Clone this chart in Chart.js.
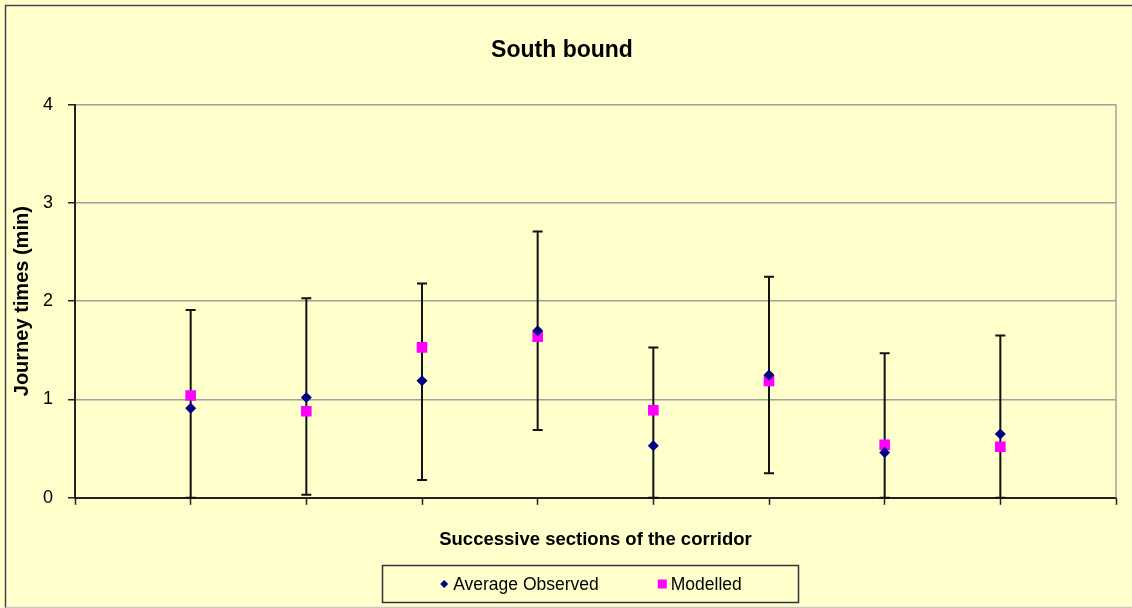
<!DOCTYPE html>
<html>
<head>
<meta charset="utf-8">
<title>South bound</title>
<script src="https://cdn.jsdelivr.net/npm/chart.js@4/dist/chart.umd.min.js"></script>
<style>
  html, body { margin: 0; padding: 0; background: #ffffcc; }
  #wrap { position: relative; width: 1132px; height: 608px; }
</style>
</head>
<body>
<div id="wrap"><canvas id="journeyChart" width="1132" height="608"></canvas></div>
<script>
const sections = [1, 2, 3, 4, 5, 6, 7, 8];
const averageObserved = [0.91, 1.02, 1.19, 1.70, 0.53, 1.25, 0.46, 0.65];
const modelled = [1.04, 0.88, 1.53, 1.64, 0.89, 1.19, 0.54, 0.52];
const errorLow = [0, 0.03, 0.18, 0.69, 0, 0.25, 0, 0];
const errorHigh = [1.91, 2.03, 2.18, 2.71, 1.53, 2.25, 1.47, 1.65];
const yTicks = [0, 1, 2, 3, 4];

const BG = "#ffffcc";
const FONT = "'Liberation Sans', Arial, sans-serif";

function toPoints(values) {
  return sections.map((s, i) => ({ x: s, y: values[i] }));
}

// background + outer frame of the chart
const frame = {
  id: "frame",
  beforeDraw(chart) {
    const ctx = chart.ctx;
    ctx.save();
    ctx.fillStyle = BG;
    ctx.fillRect(0, 0, chart.width, chart.height);
    ctx.strokeStyle = "#444";
    ctx.lineWidth = 1.5;
    ctx.beginPath();
    ctx.moveTo(5.5, chart.height);
    ctx.lineTo(5.5, 5.5);
    ctx.lineTo(chart.width, 5.5);
    ctx.stroke();
    ctx.strokeStyle = "#c8c8c8";
    ctx.beginPath();
    ctx.moveTo(5.5, chart.height - 0.5);
    ctx.lineTo(chart.width, chart.height - 0.5);
    ctx.stroke();
    ctx.restore();
  },
  beforeDatasetsDraw(chart) {
    // right edge of plot area
    const { ctx, chartArea } = chart;
    ctx.save();
    ctx.strokeStyle = "#a0a0a0";
    ctx.lineWidth = 1.5;
    ctx.beginPath();
    ctx.moveTo(chartArea.right, chartArea.top);
    ctx.lineTo(chartArea.right, chartArea.bottom);
    ctx.stroke();
    ctx.restore();
  }
};

// vertical error bars with caps, behind the markers
const errorBars = {
  id: "errorBars",
  beforeDatasetsDraw(chart) {
    const ctx = chart.ctx;
    const xs = chart.scales.x;
    const ys = chart.scales.y;
    ctx.save();
    ctx.strokeStyle = "#111";
    ctx.lineWidth = 2;
    sections.forEach((s, i) => {
      const px = xs.getPixelForValue(s);
      const top = ys.getPixelForValue(errorHigh[i]);
      const bottom = ys.getPixelForValue(errorLow[i]);
      ctx.beginPath();
      ctx.moveTo(px, top);
      ctx.lineTo(px, bottom);
      ctx.moveTo(px - 5, top);
      ctx.lineTo(px + 5, top);
      ctx.moveTo(px - 5, bottom);
      ctx.lineTo(px + 5, bottom);
      ctx.stroke();
    });
    ctx.restore();
  }
};

// boxed legend under the x axis title
const boxLegend = {
  id: "boxLegend",
  afterDraw(chart) {
    const ctx = chart.ctx;
    const box = { left: 382.5, top: 565.5, width: 416, height: 37 };
    ctx.save();
    ctx.strokeStyle = "#333";
    ctx.lineWidth = 1.5;
    ctx.strokeRect(box.left, box.top, box.width, box.height);

    ctx.font = "17.5px " + FONT;
    ctx.textBaseline = "middle";
    ctx.fillStyle = "#000";
    const cy = box.top + box.height / 2;
    const gap = 58;
    const items = chart.data.datasets.map(ds => ({
      text: ds.label,
      style: ds.pointStyle,
      color: ds.backgroundColor,
      w: 10 + 4 + ctx.measureText(ds.label).width
    }));
    const total = items.reduce((a, it) => a + it.w, 0) + gap * (items.length - 1);
    let x = box.left + box.width / 2 - total / 2;
    items.forEach(it => {
      ctx.fillStyle = it.color;
      ctx.beginPath();
      if (it.style === "rectRot") {
        ctx.moveTo(x + 5, cy - 4);
        ctx.lineTo(x + 9, cy);
        ctx.lineTo(x + 5, cy + 4);
        ctx.lineTo(x + 1, cy);
        ctx.closePath();
      } else {
        ctx.rect(x + 1, cy - 4.5, 9, 9);
      }
      ctx.fill();
      ctx.fillStyle = "#000";
      ctx.fillText(it.text, x + 14, cy + 1);
      x += it.w + gap;
    });
    ctx.restore();
  }
};

const ctx = document.getElementById("journeyChart").getContext("2d");

new Chart(ctx, {
  type: "scatter",
  data: {
    datasets: [
      {
        label: "Average Observed",
        data: toPoints(averageObserved),
        pointStyle: "rectRot",
        pointRadius: 5.5,
        backgroundColor: "#000080",
        borderColor: "#000080",
        borderWidth: 0,
        showLine: false
      },
      {
        label: "Modelled",
        data: toPoints(modelled),
        pointStyle: "rect",
        pointRadius: 7.5,
        backgroundColor: "#ff00ff",
        borderColor: "#ff00ff",
        borderWidth: 0,
        showLine: false
      }
    ]
  },
  options: {
    responsive: false,
    animation: false,
    layout: {
      padding: { left: 8, right: 16, top: 0, bottom: 53 }
    },
    scales: {
      x: {
        type: "linear",
        min: 0,
        max: 9,
        ticks: { stepSize: 1, display: false },
        grid: {
          drawOnChartArea: false,
          drawTicks: true,
          tickLength: 7,
          tickColor: "#222",
          tickWidth: 1.5
        },
        border: { color: "#222", width: 2 },
        title: {
          display: true,
          text: "Successive sections of the corridor",
          color: "#000",
          font: { family: FONT, size: 18.5, weight: "bold" },
          padding: { top: 24, bottom: 4 }
        }
      },
      y: {
        min: 0,
        max: 4,
        afterBuildTicks: scale => {
          scale.ticks = yTicks.map(v => ({ value: v }));
        },
        afterFit: scale => {
          scale.width = 67;
        },
        ticks: {
          color: "#000",
          padding: 15,
          font: { family: FONT, size: 18 }
        },
        grid: {
          color: "#a0a0a0",
          lineWidth: 1.5,
          tickLength: 7,
          tickColor: "#222",
          tickWidth: 1.5
        },
        border: { color: "#222", width: 2 },
        title: {
          display: true,
          text: "Journey times (min)",
          color: "#000",
          font: { family: FONT, size: 20, weight: "bold" },
          padding: { top: 2, bottom: 0 }
        }
      }
    },
    plugins: {
      legend: { display: false },
      tooltip: { enabled: false },
      title: {
        display: true,
        text: "South bound",
        color: "#000",
        font: { family: FONT, size: 23, weight: "bold" },
        padding: { top: 37, bottom: 40 }
      }
    }
  },
  plugins: [frame, errorBars, boxLegend]
});
</script>
</body>
</html>
